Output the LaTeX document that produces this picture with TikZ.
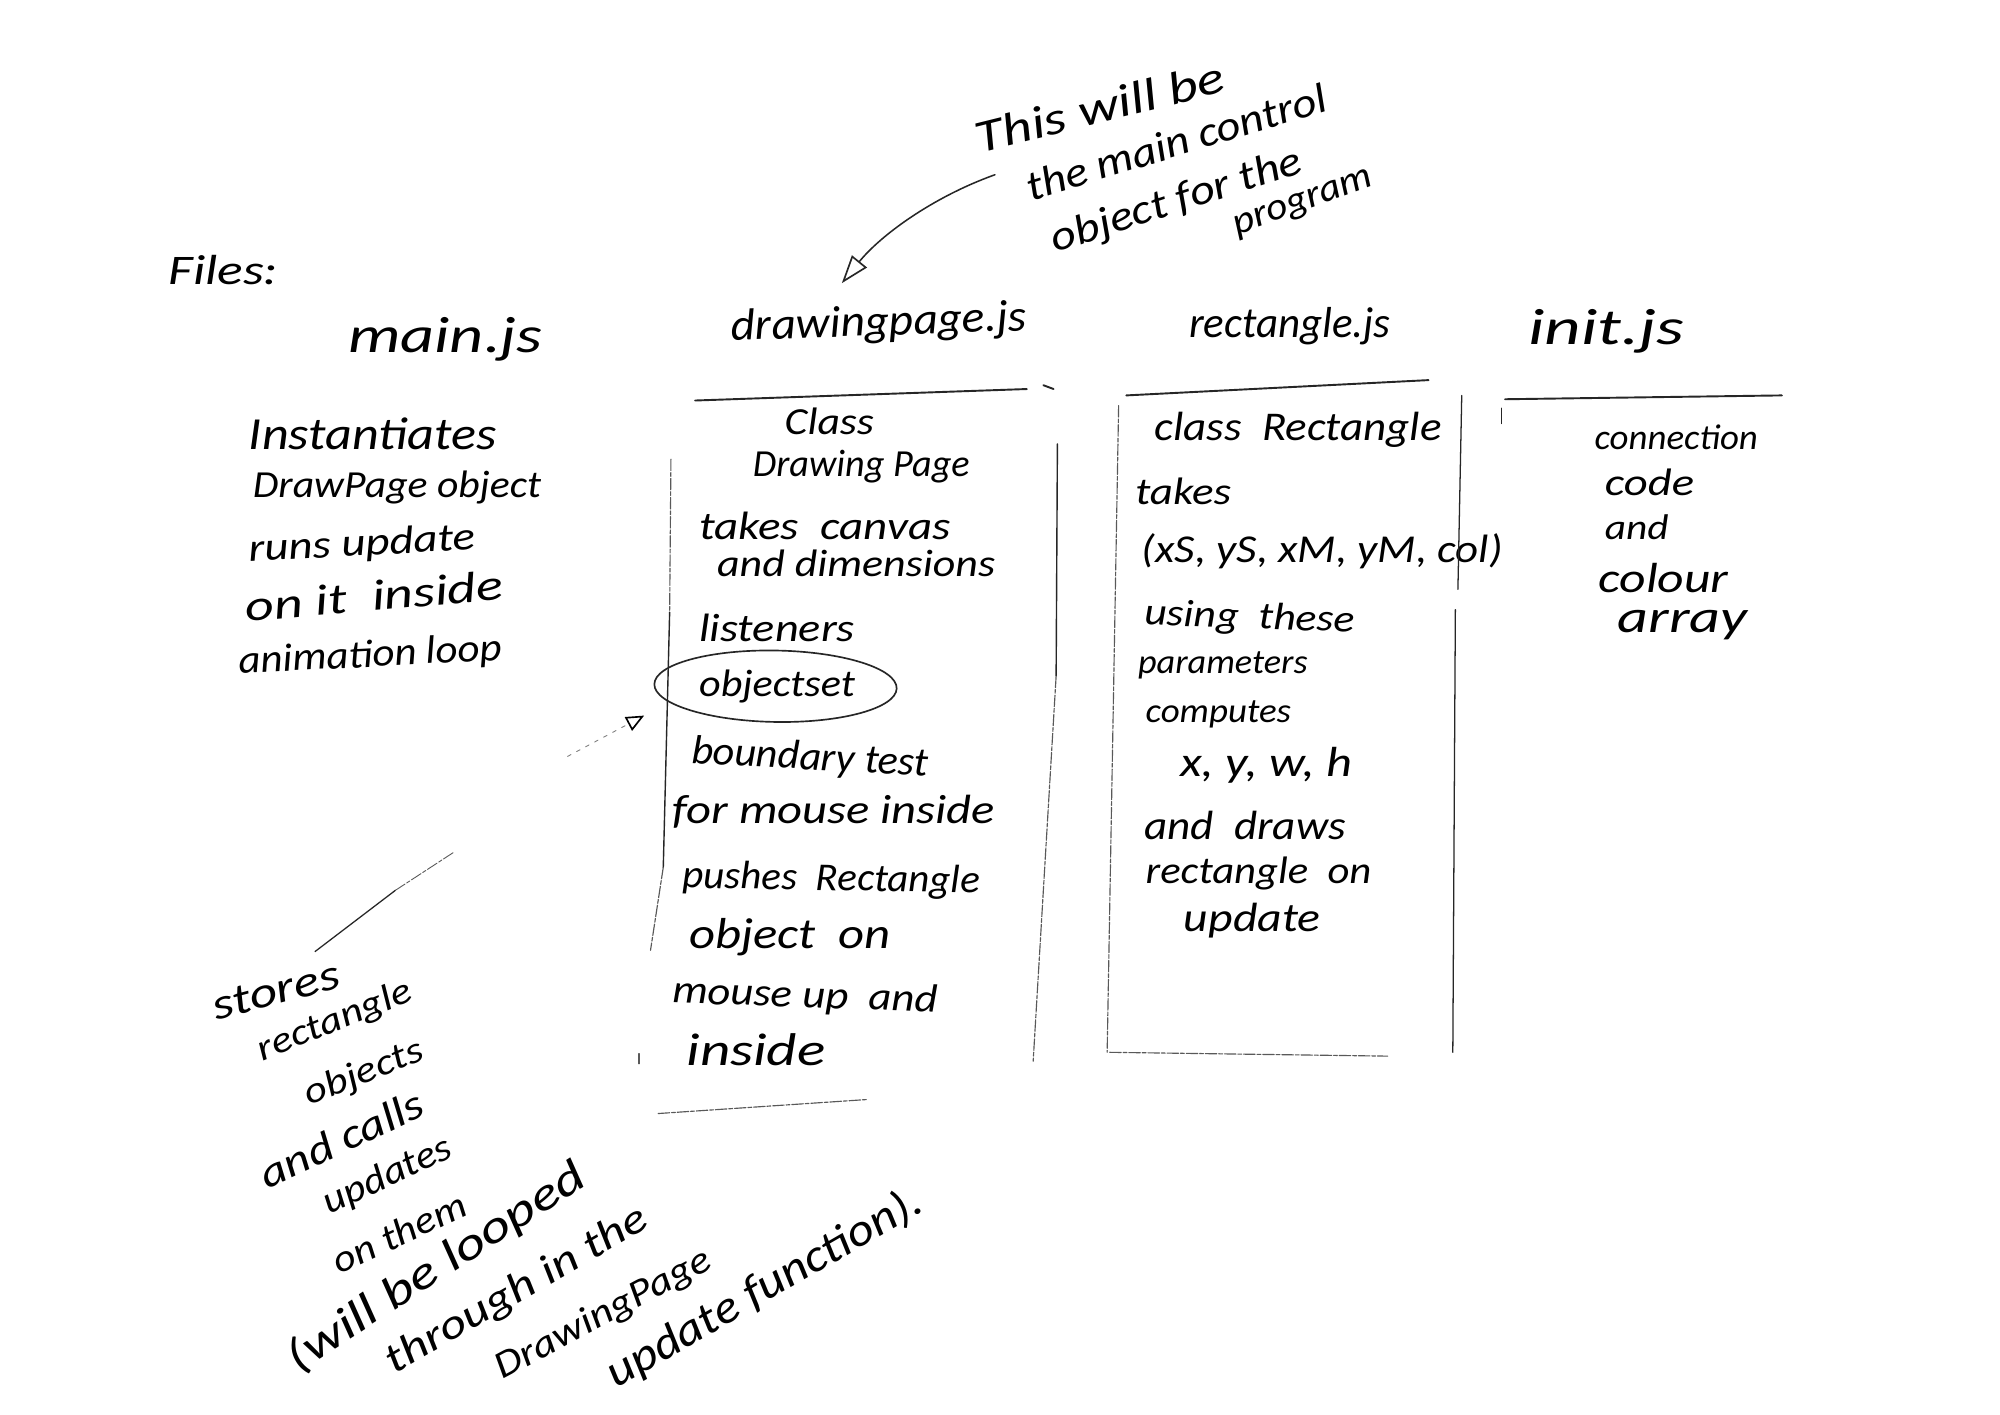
\documentclass[tikz,border=0pt]{standalone}
\usepackage{graphicx}
\usepackage{fontspec}
\setmainfont{Carlito}
\usetikzlibrary{shapes.geometric,arrows.meta,calc}
\tikzset{
  hw/.style={inner sep=0pt,anchor=west,font=\itshape,text=black},
  sketch/.style={line width=1.5pt,black!85,line cap=round},
  faint/.style={line width=0.9pt,black!65,dash pattern=on 9pt off 1.5pt on 3pt off 1.5pt,line cap=round},
  fainter/.style={line width=0.7pt,black!50,dash pattern=on 3pt off 5pt,line cap=round},
}
% name, x, y, rotation, width, font size, text: the line is stretched sideways to the handwriting's width
\newcommand{\hwline}[7]{\node[hw,rotate=#4] (#1) at (#2,#3) {\resizebox{#5pt}{\height}{\fontsize{#6}{#6}\selectfont #7}};}
\begin{document}
\begin{tikzpicture}[x=1pt,y=-1pt]
\useasboundingbox (0,0) rectangle (1568,1108.6);
\fill[white] (0,0) rectangle (1568,1108.6);

\hwline{files}{132}{212}{0}{86}{33}{Files:}
\hwline{mainjs}{273}{266}{0}{152}{40}{main.js}
\hwline{drawjs}{573}{258}{2}{232}{35}{drawingpage.js}
\hwline{rectjs}{932}{256}{0}{158}{34}{rectangle.js}
\hwline{initjs}{1198}{260}{0}{122}{40}{init.js}

% main.js column
\hwline{m1}{195}{340}{0}{194}{36}{Instantiates}
\hwline{m2}{198}{382}{0}{226}{30}{DrawPage object}
\hwline{m3}{195}{432}{3}{178}{31}{runs update}
\hwline{m4}{192}{476}{5}{203}{34}{on it \ inside}
\hwline{m5}{187}{520}{3}{207}{31}{animation loop}

% drawingpage column
\hwline{d1}{615}{330}{0}{70}{30}{Class}
\hwline{d2}{590}{366}{0}{170}{30}{Drawing Page}
\hwline{d3}{548}{412}{0}{197}{31}{takes \ canvas}
\hwline{d4}{562}{442}{0}{218}{30}{and dimensions}
\hwline{d5}{548}{492}{0}{122}{31}{listeners}
\node[draw=black!85,line width=1.3pt,ellipse,minimum width=190pt,minimum height=56pt,inner sep=0pt,rotate=-1] (oset) at (608,538) {};
\hwline{d6}{548}{538}{0}{122}{30}{objectset}
\hwline{d7}{542}{590}{-3}{186}{32}{boundary test}
\hwline{d8}{527}{636}{0}{253}{32}{for mouse inside}
\hwline{d9}{535}{688}{-1}{233}{31}{pushes \ Rectangle}
\hwline{d10}{540}{735}{0}{158}{34}{object \ on}
\hwline{d11}{527}{778}{-2}{208}{31}{mouse up \ and}
\hwline{d12}{538}{823}{0}{109}{36}{inside}

% rectangle column
\hwline{r1}{905}{337}{0}{225}{32}{class \ Rectangle}
\hwline{r2}{890}{385}{0}{75}{30}{takes}
\hwline{r3}{895}{432}{0}{283}{31}{(xS, yS, xM, yM, col)}
\hwline{r4}{897}{482}{-2}{165}{30}{using \ these}
\hwline{r5}{892}{522}{0}{133}{27}{parameters}
\hwline{r6}{898}{560}{0}{114}{27}{computes}
\hwline{r7}{925}{600}{0}{135}{33}{x, y, w, h}
\hwline{r8}{897}{647}{0}{158}{32}{and \ draws}
\hwline{r9}{898}{685}{0}{177}{30}{rectangle \ on}
\hwline{r10}{928}{722}{0}{107}{32}{update}

% init column
\hwline{i1}{1250}{343}{0}{128}{28}{connection}
\hwline{i2}{1258}{378}{0}{70}{30}{code}
\hwline{i3}{1258}{413}{0}{50}{28}{and}
\hwline{i4}{1253}{453}{0}{102}{33}{colour}
\hwline{i5}{1268}{490}{0}{102}{36}{array}

% top note
\hwline{t1}{765}{108}{14}{200}{36}{This will be}
\hwline{t2}{805}{147}{17}{245}{33}{the main control}
\hwline{t3}{825}{190}{18}{205}{33}{object for the}
\hwline{t4}{968}{180}{20}{115}{30}{program}

% bottom note
\hwline{b1}{167}{790}{15}{102}{34}{stores}
\hwline{b2}{203}{825}{22}{128}{29}{rectangle}
\hwline{b3}{240}{860}{22}{98}{29}{objects}
\hwline{b4}{205}{922}{25}{138}{33}{and calls}
\hwline{b5}{255}{945}{25}{108}{30}{updates}
\hwline{b6}{262}{990}{25}{112}{30}{on them}
\hwline{b7}{228}{1068}{33}{272}{36}{(will be looped}
\hwline{b8}{305}{1070}{30}{232}{33}{through in the}
\hwline{b9}{390}{1075}{28}{188}{30}{DrawingPage}
\hwline{b10}{478}{1080}{30}{280}{36}{update function).}

% arrows and notes' leaders
\coordinate (arrS) at (780,137);
\coordinate (arrE) at (660,222);
\draw[sketch,line width=1.2pt,-{Triangle[open,length=22pt,width=15pt,line width=1.3pt]}] (arrS) .. controls (730,155) and (690,185) .. (arrE);
\coordinate (setS) at (445,593);
\coordinate (setE) at (505,561);
\draw[fainter,-{Triangle[open,length=14pt,width=12pt,line width=1.3pt,black]}] (setS) -- (setE);
\coordinate (leadS) at (247,746);
\coordinate (leadM) at (310,698);
\coordinate (leadE) at (356,668);
\draw[sketch,line width=1pt] (leadS) -- (leadM);
\draw[faint,line width=.7pt] (leadM) -- (leadE);

% box: drawingpage
\coordinate (a1) at (545,314); \coordinate (a2) at (805,305);
\coordinate (a2b) at (818,302); \coordinate (a2c) at (826,305);
\coordinate (a3) at (829,348); \coordinate (a4) at (828,530); \coordinate (a5) at (810,832);
\coordinate (a6) at (526,360); \coordinate (a7) at (525,480); \coordinate (a8) at (520,680); \coordinate (a9) at (510,745);
\coordinate (a10) at (516,873); \coordinate (a11) at (680,862);
\coordinate (a12) at (501,826); \coordinate (a13) at (501,834);
\draw[sketch] (a1) -- (a2);
\draw[sketch] (a2b) -- (a2c);
\draw[sketch,line width=1.1pt] (a3) -- (a4);
\draw[faint] (a4) -- (a5);
\draw[faint] (a6) -- (a7);
\draw[sketch,line width=1.1pt] (a7) -- (a8);
\draw[faint] (a8) -- (a9);
\draw[faint] (a10) -- (a11);
\draw[faint] (a12) -- (a13);

% box: rectangle
\coordinate (c1) at (883,310); \coordinate (c2) at (1120,298);
\coordinate (c3) at (877,318); \coordinate (c4) at (868,825);
\coordinate (c5) at (1146,310); \coordinate (c6) at (1143,462);
\coordinate (c7) at (1141,478); \coordinate (c8) at (1139,825);
\coordinate (c9) at (870,825); \coordinate (c10) at (1088,828);
\draw[sketch] (c1) -- (c2);
\draw[faint] (c3) -- (c4);
\draw[sketch,line width=1pt] (c5) -- (c6);
\draw[sketch,line width=1pt] (c7) -- (c8);
\draw[faint] (c9) -- (c10);

% box: init
\coordinate (e1) at (1180,313); \coordinate (e2) at (1397,310);
\coordinate (e3) at (1177,320); \coordinate (e4) at (1177,332);
\draw[sketch] (e1) -- (e2);
\draw[sketch,line width=.9pt] (e3) -- (e4);
\end{tikzpicture}
\end{document}
